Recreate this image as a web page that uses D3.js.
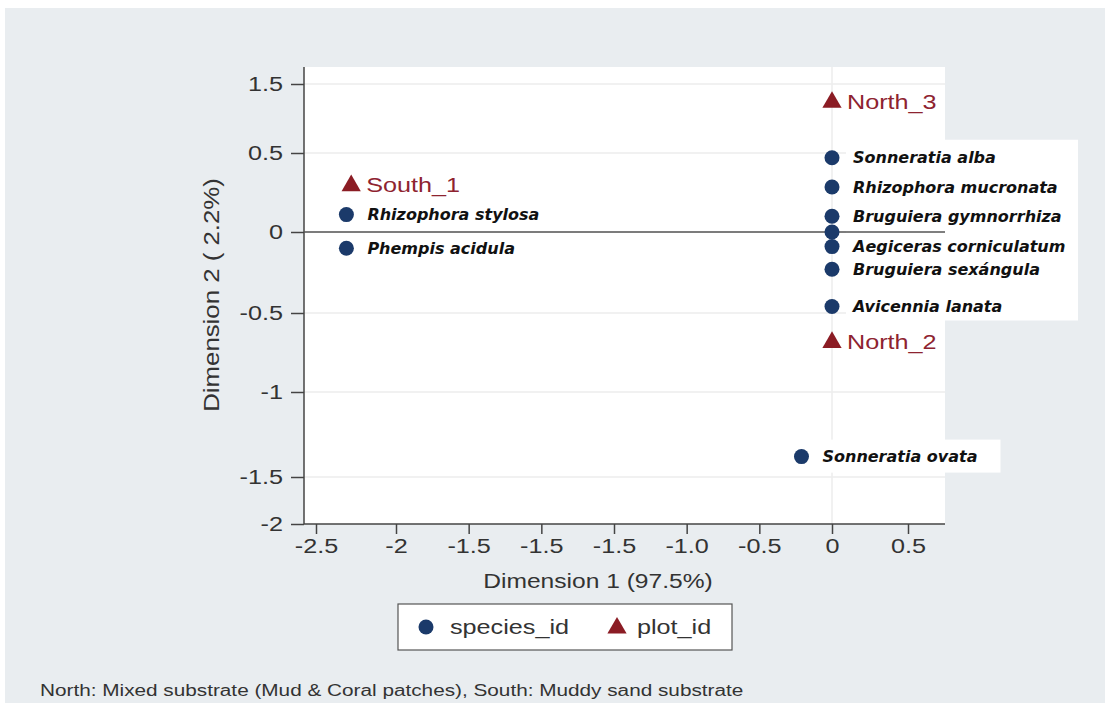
<!DOCTYPE html>
<meta charset="utf-8">
<style>
body { margin: 0; background: #fff; }
.axis text { font: 21px "Liberation Sans", Arial, sans-serif; fill: #333; }
.axis path, .axis line { stroke: #444; stroke-width: 1.5; }
.grid line { stroke: #ececec; stroke-width: 1.5; }
.sp-label { font: italic bold 16px "DejaVu Sans", Verdana, sans-serif; fill: #111; }
.plot-label { font: 21px "Liberation Sans", Arial, sans-serif; fill: #8e2330; }
.title { font: 20.5px "Liberation Sans", Arial, sans-serif; fill: #333; }
</style>
<body>
<script src="https://d3js.org/d3.v7.min.js"></script>
<script>

// species points (Dimension 1, Dimension 2)
var speciesNames = ["Sonneratia alba", "Rhizophora mucronata", "Bruguiera gymnorrhiza", "", "Aegiceras corniculatum",
                    "Bruguiera sexángula", "Avicennia lanata", "Sonneratia ovata", "Rhizophora stylosa", "Phempis acidula"];
var speciesX = [0, 0, 0, 0, 0, 0, 0, -0.14, -2.31, -2.31];
var speciesY = [0.47, 0.285, 0.10, 0, -0.09, -0.23, -0.46, -1.38, 0.11, -0.10];

// plot points
var plotNames = ["North_3", "North_2", "South_1"];
var plotX = [0, 0, -2.28];
var plotY = [1.25, -0.68, 0.30];

// axis ticks as printed on the figure
var xTickValues = [-2.5, -2, -5/3, -4/3, -1, -2/3, -1/3, 0, 0.5];
var xTickLabels = ["-2.5", "-2", "-1.5", "-1.5", "-1.5", "-1.0", "-0.5", "0", "0.5"];
var yTickValues = [1.5, 0.5, 0, -0.5, -1, -1.5, -2];
var yTickLabels = ["1.5", "0.5", "0", "-0.5", "-1", "-1.5", "-2"];

var W = 1105, H = 703;
var plotL = 304, plotR = 945, plotT = 67, plotB = 524;
var K = 1.2;  // the figure's text is a little wide

// widen text horizontally around its own anchor point
function stretch(sel) {
  sel.each(function() {
    var t = d3.select(this);
    var tx = +t.attr("x") || 0;
    t.attr("transform", "translate(" + tx * (1 - K) + ",0) scale(" + K + ",1)");
  });
}

var svg = d3.select("body").append("svg")
    .attr("width", W).attr("height", H);

// grey page background
svg.append("rect").attr("x", 5).attr("y", 8).attr("width", W - 5).attr("height", H - 8)
    .attr("fill", "#e9edf0");

svg.append("rect").attr("x", plotL).attr("y", plotT)
    .attr("width", plotR - plotL).attr("height", plotB - plotT)
    .attr("fill", "#fff");

// the printed axes are not evenly spaced, so use piecewise scales
var x = d3.scaleLinear()
    .domain([-2.5, -2, 0, 0.5])
    .range([316, 396, 832, 908]);
var y = d3.scaleLinear()
    .domain([1.5, 0.5, 0, -0.5, -1, -1.5, -2])
    .range([84, 153, 232, 313, 392, 477, 524]);

// gridlines
svg.append("g").attr("class", "grid")
  .selectAll("line").data(yTickValues.filter(d => d > -2))
  .enter().append("line")
    .attr("x1", plotL).attr("x2", plotR)
    .attr("y1", d => y(d)).attr("y2", d => y(d));
svg.append("g").attr("class", "grid").append("line")
    .attr("x1", x(0)).attr("x2", x(0))
    .attr("y1", plotT).attr("y2", plotB);

// axes
var xAxis = d3.axisBottom(x)
    .tickValues(xTickValues)
    .tickFormat((d, i) => xTickLabels[i])
    .tickSize(10).tickSizeOuter(0).tickPadding(4);
var gx = svg.append("g").attr("class", "axis")
    .attr("transform", "translate(0," + plotB + ")")
    .call(xAxis);
gx.select(".domain").attr("d", "M" + plotL + ",0H" + plotR);
stretch(gx.selectAll("text"));

var yAxis = d3.axisLeft(y)
    .tickValues(yTickValues)
    .tickFormat((d, i) => yTickLabels[i])
    .tickSize(13).tickSizeOuter(0).tickPadding(8);
var gy = svg.append("g").attr("class", "axis")
    .attr("transform", "translate(" + plotL + ",0)")
    .call(yAxis);
gy.select(".domain").attr("d", "M0," + plotT + "V" + plotB);
stretch(gy.selectAll("text"));

// axis titles
svg.append("text").attr("class", "title")
    .attr("x", 598).attr("y", 588)
    .attr("text-anchor", "middle")
    .text("Dimension 1 (97.5%)")
    .call(stretch);
svg.append("text").attr("class", "title")
    .attr("transform", "translate(219,295) rotate(-90) scale(" + K + ",1)")
    .attr("text-anchor", "middle")
    .style("font-size", "21.5px")
    .text("Dimension 2 ( 2.2%)");

var species = speciesNames.map((n, i) => ({name: n, x: speciesX[i], y: speciesY[i]}));
var plots = plotNames.map((n, i) => ({name: n, x: plotX[i], y: plotY[i]}));

// white backing boxes behind the labels that spill out of the plot
var rightGroup = species.filter(d => d.name && d.x === 0);
var yTop = d3.max(rightGroup, d => d.y), yBot = d3.min(rightGroup, d => d.y);
svg.append("rect").attr("fill", "#fff")
    .attr("x", x(0) + 14).attr("y", y(yTop) - 18)
    .attr("width", 1078 - x(0) - 14).attr("height", y(yBot) - y(yTop) + 32);
var lone = species.filter(d => d.x < 0 && d.x > -1);
svg.append("g").selectAll("rect").data(lone)
  .enter().append("rect").attr("fill", "#fff")
    .attr("x", d => x(d.x) - 18).attr("y", d => y(d.y) - 17)
    .attr("width", 217).attr("height", 33);

// zero line
svg.append("line")
    .attr("x1", plotL).attr("x2", plotR)
    .attr("y1", y(0)).attr("y2", y(0))
    .attr("stroke", "#555").attr("stroke-width", 1.5);

// species labels
svg.append("g").selectAll("text").data(species.filter(d => d.name))
  .enter().append("text").attr("class", "sp-label")
    .attr("x", d => x(d.x) + 21)
    .attr("y", d => y(d.y))
    .attr("dy", "0.35em")
    .text(d => d.name);

// species markers
svg.append("g").selectAll("circle").data(species)
  .enter().append("circle")
    .attr("cx", d => x(d.x))
    .attr("cy", d => y(d.y))
    .attr("r", 7.5)
    .attr("fill", "#1b3a6a");

// plot markers
var tri = d3.symbol().type(d3.symbolTriangle).size(160);
svg.append("g").selectAll("path").data(plots)
  .enter().append("path")
    .attr("d", tri)
    .attr("transform", d => "translate(" + x(d.x) + "," + (y(d.y) + 1) + ")")
    .attr("fill", "#8b1c24");
svg.append("g").selectAll("text").data(plots)
  .enter().append("text").attr("class", "plot-label")
    .attr("x", d => x(d.x) + 15)
    .attr("y", d => y(d.y))
    .attr("dy", "0.36em")
    .text(d => d.name)
    .call(stretch);

// legend
var leg = svg.append("g");
leg.append("rect")
    .attr("x", 398).attr("y", 604).attr("width", 334).attr("height", 46)
    .attr("fill", "#fff").attr("stroke", "#555").attr("stroke-width", 1.2);
leg.append("circle").attr("cx", 426).attr("cy", 627).attr("r", 7.5).attr("fill", "#1b3a6a");
leg.append("text").attr("class", "title").style("font-size", "21px")
    .attr("x", 450).attr("y", 627).attr("dy", "0.35em").text("species_id")
    .call(stretch);
leg.append("path").attr("d", tri)
    .attr("transform", "translate(617,628)").attr("fill", "#8b1c24");
leg.append("text").attr("class", "title").style("font-size", "21px")
    .attr("x", 637).attr("y", 627).attr("dy", "0.35em").text("plot_id")
    .call(stretch);

// caption
svg.append("text").attr("class", "title").style("font-size", "17.3px")
    .attr("x", 40).attr("y", 696)
    .text("North: Mixed substrate (Mud & Coral patches), South: Muddy sand substrate")
    .call(stretch);

</script>
</body>
